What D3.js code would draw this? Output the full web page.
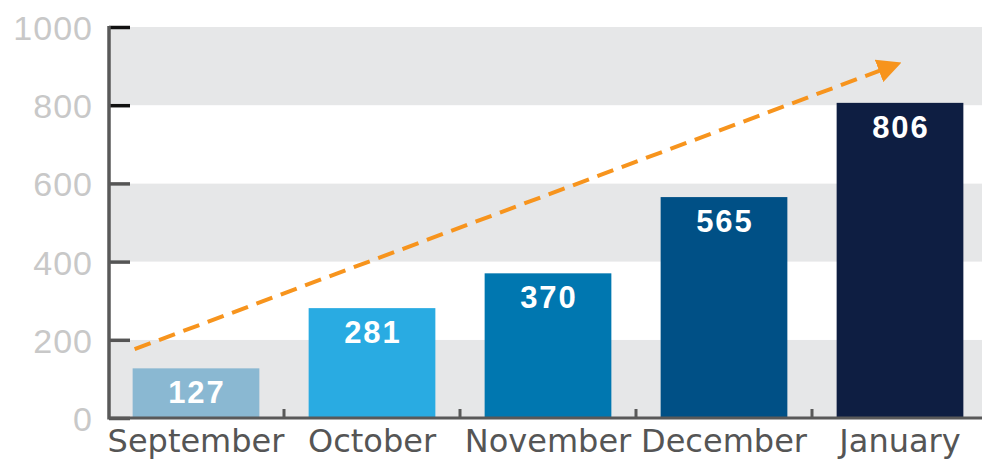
<!DOCTYPE html>
<html><head><meta charset="utf-8">
<script src="https://cdn.jsdelivr.net/npm/d3@7"></script>
<style>body{margin:0;background:#fff;}svg{display:block;}</style>
</head><body>
<script>
const categories = ["September","October","November","December","January"];
const values = [127, 281, 370, 565, 806];
const barColors = ["#8ab8d2","#29abe2","#0077b0","#005086","#0e1e42"];
const yTicks = [0,200,400,600,800,1000];
const trendValues = [176, 905]; // dashed trend arrow start/end values

const W = 982, H = 459;
const svg = d3.select("body").append("svg").attr("width", W).attr("height", H);
const x = d3.scaleBand().domain(categories).range([108, 988]).paddingInner(0.28).paddingOuter(0.14);
const y = d3.scaleLinear().domain([0, 1000]).range([418, 27]);

// alternating bands
const bands = d3.range(0, 1000, 200);
svg.selectAll("rect.band").data(bands).enter().append("rect")
  .attr("x", 110).attr("width", W - 110)
  .attr("y", d => y(d + 200)).attr("height", d => y(d) - y(d + 200))
  .attr("fill", (d, i) => i % 2 === 0 ? "#e6e7e8" : "#ffffff");

// bars
svg.selectAll("rect.bar").data(values).enter().append("rect")
  .attr("x", (d, i) => x(categories[i])).attr("width", x.bandwidth())
  .attr("y", d => y(d)).attr("height", d => y(0) - y(d))
  .attr("fill", (d, i) => barColors[i]);

// bar labels
svg.selectAll("text.val").data(values).enter().append("text")
  .attr("x", (d, i) => x(categories[i]) + x.bandwidth() / 2 + 1)
  .attr("y", d => y(d) + 35)
  .attr("text-anchor", "middle")
  .attr("font-family", "Liberation Sans, Arial, sans-serif").attr("font-weight", "bold").attr("font-size", 31)
  .attr("letter-spacing", 2)
  .attr("fill", "#fff").text(d => d);

// y axis
const yAxis = svg.append("g").attr("transform", "translate(109,0)")
  .call(d3.axisRight(y).tickValues(yTicks).tickSize(21).tickFormat(""));
yAxis.select(".domain").remove();
yAxis.selectAll(".tick line").attr("stroke", d => d >= 800 ? "#111" : "#555").attr("stroke-width", 3.5);
svg.append("line").attr("x1", 109).attr("x2", 109).attr("y1", y(1000) - 1).attr("y2", y(0) + 1.5)
  .attr("stroke", "#595959").attr("stroke-width", 3.5);
svg.selectAll("text.ylab").data(yTicks).enter().append("text")
  .attr("x", 93).attr("y", d => y(d) + 13)
  .attr("text-anchor", "end")
  .attr("font-family", "Liberation Sans, Arial, sans-serif").attr("font-size", 34)
  .attr("letter-spacing", 1)
  .attr("fill", "#c8c8c8").text(d => d);

// x axis
const xAxis = svg.append("g").attr("transform", `translate(0,${y(0)})`)
  .call(d3.axisBottom(x).tickSize(0).tickFormat(""));
xAxis.select(".domain").attr("d", `M109,0H${W}`).attr("stroke", "#595959").attr("stroke-width", 3);
xAxis.selectAll(".tick").remove();
const boundaries = categories.slice(1).map(c => x(c) - x.step() * x.paddingInner() / 2);
svg.selectAll("line.xt").data(boundaries).enter().append("line")
  .attr("x1", d => d).attr("x2", d => d).attr("y1", y(0) - 9).attr("y2", y(0))
  .attr("stroke", "#595959").attr("stroke-width", 3);
svg.selectAll("text.xlab").data(categories).enter().append("text")
  .attr("x", d => x(d) + x.bandwidth() / 2).attr("y", 452)
  .attr("text-anchor", "middle")
  .attr("font-family", "DejaVu Sans").attr("font-size", 32)
  .attr("fill", "#555").text(d => d);

// trend arrow
svg.append("defs").append("marker").attr("id", "ah")
  .attr("viewBox", "0 0 10 10").attr("refX", 8).attr("refY", 5)
  .attr("markerWidth", 6).attr("markerHeight", 6).attr("markerUnits", "strokeWidth")
  .attr("orient", "auto")
  .append("path").attr("d", "M0,0L10,5L0,10z").attr("fill", "#f7941d");
const x0 = x(categories[0]) + 2, x1 = x(categories[4]) + x.bandwidth() / 2 - 3;
svg.append("line")
  .attr("x1", x0).attr("y1", y(trendValues[0]))
  .attr("x2", x1).attr("y2", y(trendValues[1]))
  .attr("stroke", "#f7941d").attr("stroke-width", 4)
  .attr("stroke-dasharray", "17,9")
  .attr("marker-end", "url(#ah)");
</script>
</body></html>
